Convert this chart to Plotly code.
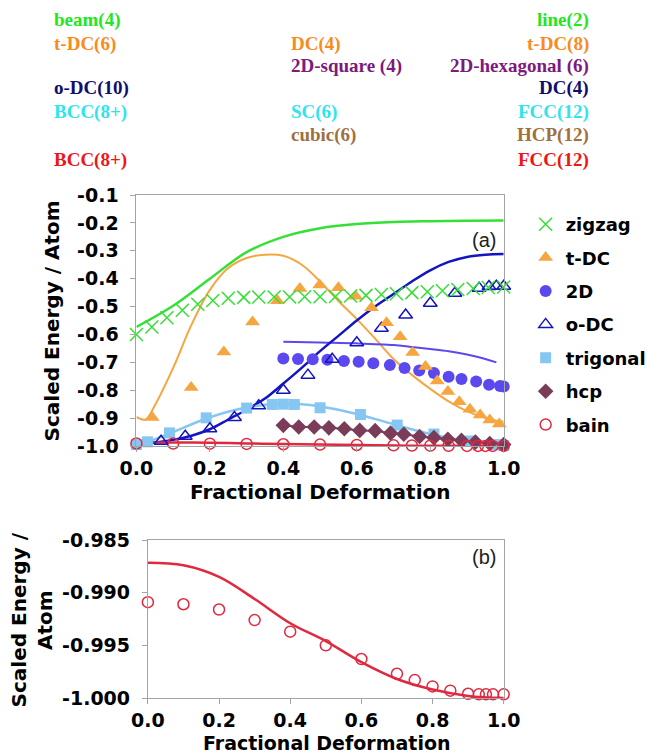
import plotly.graph_objects as go

W, H = 652, 756

# ---------------- data: panel (a) ----------------
zig_x = [0.0, 0.042, 0.083, 0.125, 0.167, 0.208, 0.25, 0.292, 0.333, 0.375, 0.417, 0.458,
         0.5, 0.542, 0.583, 0.625, 0.667, 0.708, 0.75, 0.792, 0.833, 0.875, 0.917, 0.958, 1.0]
zig_y = [-0.600, -0.573, -0.540, -0.513, -0.492, -0.478, -0.470, -0.467, -0.466, -0.466, -0.466, -0.465,
         -0.465, -0.464, -0.462, -0.460, -0.457, -0.454, -0.450, -0.447, -0.443, -0.439, -0.435, -0.432, -0.430]
zig_fit_x = [0.0, 0.1, 0.2, 0.3, 0.4, 0.5, 0.6, 0.7, 0.8, 0.9, 1.0]
zig_fit_y = [-0.573, -0.497, -0.400, -0.305, -0.250, -0.219, -0.204, -0.197, -0.194, -0.192, -0.191]

tdc_x = [0.043, 0.149, 0.238, 0.316, 0.384, 0.445, 0.499, 0.55, 0.597, 0.64, 0.681, 0.718,
         0.752, 0.787, 0.819, 0.848, 0.879, 0.908, 0.936, 0.962, 0.988]
tdc_y = [-0.898, -0.790, -0.663, -0.555, -0.479, -0.435, -0.423, -0.433, -0.463, -0.504, -0.558, -0.608,
         -0.665, -0.715, -0.767, -0.805, -0.841, -0.868, -0.889, -0.907, -0.921]
tdc_fit_x = [0.0, 0.025, 0.05, 0.1, 0.15, 0.2, 0.25, 0.3, 0.35, 0.4, 0.45, 0.5, 0.55, 0.6,
             0.65, 0.7, 0.75, 0.8, 0.85, 0.9, 0.95, 1.0]
tdc_fit_y = [-0.896, -0.905, -0.855, -0.720, -0.565, -0.440, -0.362, -0.326, -0.314, -0.318, -0.350,
             -0.410, -0.480, -0.545, -0.615, -0.688, -0.745, -0.795, -0.840, -0.875, -0.900, -0.913]

d2_x = [0.40, 0.44, 0.48, 0.52, 0.565, 0.605, 0.645, 0.69, 0.73, 0.77, 0.81, 0.85, 0.885, 0.925, 0.96, 0.99, 1.0]
d2_y = [-0.686, -0.688, -0.689, -0.691, -0.695, -0.698, -0.703, -0.710, -0.720, -0.729, -0.738, -0.752,
        -0.760, -0.769, -0.780, -0.785, -0.787]
d2_fit_x = [0.40, 0.5, 0.6, 0.7, 0.75, 0.8, 0.85, 0.9, 0.95, 0.98]
d2_fit_y = [-0.626, -0.629, -0.632, -0.638, -0.645, -0.652, -0.660, -0.672, -0.688, -0.700]

odc_x = [0.067, 0.133, 0.2, 0.267, 0.333, 0.4, 0.467, 0.533, 0.6, 0.667, 0.733, 0.8, 0.867, 0.933, 0.96, 0.98, 1.0]
odc_y = [-0.983, -0.965, -0.938, -0.898, -0.856, -0.800, -0.746, -0.689, -0.630, -0.578, -0.530, -0.488,
         -0.452, -0.434, -0.428, -0.427, -0.427]
odc_fit_x = [0.03, 0.1, 0.15, 0.2, 0.25, 0.3, 0.35, 0.4, 0.45, 0.5, 0.55, 0.6, 0.65, 0.7, 0.75,
             0.8, 0.85, 0.9, 0.95, 1.0]
odc_fit_y = [-0.990, -0.978, -0.963, -0.940, -0.905, -0.870, -0.830, -0.776, -0.720, -0.660, -0.605,
             -0.550, -0.500, -0.455, -0.410, -0.370, -0.340, -0.322, -0.314, -0.312]

tri_x = [0.0, 0.03, 0.09, 0.19, 0.30, 0.37, 0.40, 0.43, 0.50, 0.61, 0.71, 0.81, 0.91, 0.98, 1.0]
tri_y = [-0.995, -0.985, -0.953, -0.899, -0.864, -0.851, -0.850, -0.851, -0.863, -0.887, -0.925,
         -0.957, -0.982, -0.995, -0.998]
tri_fit_x = [0.03, 0.1, 0.2, 0.3, 0.4, 0.5, 0.6, 0.7, 0.8, 0.9, 1.0]
tri_fit_y = [-0.986, -0.950, -0.897, -0.862, -0.848, -0.858, -0.885, -0.922, -0.957, -0.983, -0.998]

hcp_x = [0.40, 0.442, 0.484, 0.524, 0.566, 0.608, 0.65, 0.692, 0.728, 0.771, 0.81, 0.848, 0.885,
         0.923, 0.962, 1.0]
hcp_y = [-0.926, -0.932, -0.932, -0.935, -0.938, -0.944, -0.945, -0.954, -0.958, -0.966, -0.970,
         -0.976, -0.980, -0.986, -0.991, -0.995]

# bain (shared by both panels)
bain_x = [0.0, 0.1, 0.2, 0.3, 0.4, 0.5, 0.6, 0.7, 0.75, 0.8, 0.85, 0.9, 0.93, 0.95, 0.97, 1.0]
bain_y = [-0.9909, -0.9911, -0.9916, -0.9926, -0.9937, -0.9950, -0.9963, -0.9977, -0.9983, -0.9989,
          -0.9993, -0.9996, -0.99965, -0.99965, -0.99965, -0.99965]
bain_fit_x = [0.0, 0.1, 0.2, 0.3, 0.4, 0.5, 0.6, 0.7, 0.8, 0.9, 1.0]
bain_fit_y = [-0.98716, -0.9874, -0.9885, -0.9906, -0.9929, -0.9946, -0.9966, -0.9982, -0.9992,
              -0.9998, -1.0]

# ticks
xa_vals = [0.0, 0.2, 0.4, 0.6, 0.8, 1.0]
xa_text = ["0.0", "0.2", "0.4", "0.6", "0.8", "1.0"]
ya_vals = [-1.0, -0.9, -0.8, -0.7, -0.6, -0.5, -0.4, -0.3, -0.2, -0.1]
ya_text = ["-1.0", "-0.9", "-0.8", "-0.7", "-0.6", "-0.5", "-0.4", "-0.3", "-0.2", "-0.1"]
yb_vals = [-1.0, -0.995, -0.99, -0.985]
yb_text = ["-1.000", "-0.995", "-0.990", "-0.985"]

# top labels (text only)
left_labels = ["beam(4)", "t-DC(6)", "", "o-DC(10)", "BCC(8+)", "", "BCC(8+)"]
mid_labels = ["", "DC(4)", "2D-square (4)", "", "SC(6)", "cubic(6)", ""]
right_labels = ["line(2)", "t-DC(8)", "2D-hexagonal (6)", "DC(4)", "FCC(12)", "HCP(12)", "FCC(12)"]

# ---------------- styles ----------------
GREEN = "#35e035"
ORANGE = "#f5a640"
BLUE2D = "#5b48ee"
NAVY = "#1414c0"
LBLUE = "#86c6f2"
HCP = "#7a3c58"
RED = "#e0283f"
row_colors = ["#22e622", "#fa8a1e", "#7d1a7d", "#0e0e70", "#2ee4ee", "#a0703f", "#ee1515"]
row_y = [20, 44, 66, 88, 112, 135, 160]

BOLD = dict(family="DejaVu Sans", weight="bold", color="black")

fig = go.Figure()

def line(x, y, color, width, xa="x", ya="y"):
    fig.add_trace(go.Scatter(x=x, y=y, mode="lines", line=dict(color=color, width=width, shape="spline", smoothing=1.0),
                             showlegend=False, hoverinfo="skip", xaxis=xa, yaxis=ya, cliponaxis=False))

# fit lines in panel (a)
line(zig_fit_x, zig_fit_y, GREEN, 2.5)
line(tdc_fit_x, tdc_fit_y, ORANGE, 2)
line(d2_fit_x, d2_fit_y, BLUE2D, 2)
line(odc_fit_x, odc_fit_y, NAVY, 2.5)
line(tri_fit_x, tri_fit_y, LBLUE, 2.5)
fig.add_trace(go.Scatter(x=hcp_x, y=hcp_y, mode="lines", line=dict(color=HCP, width=2),
                         showlegend=False, hoverinfo="skip", cliponaxis=False))
line(bain_fit_x, bain_fit_y, RED, 2.5)

def pts(name, x, y, symbol, size, color, filled=True, lw=1.5):
    if filled:
        marker = dict(symbol=symbol, size=size, color=color, line=dict(width=0))
    else:
        marker = dict(symbol=symbol, size=size, color=color, line=dict(width=lw, color=color))
    fig.add_trace(go.Scatter(x=x, y=y, mode="markers", name=name, marker=marker, legendgroup=name,
                             cliponaxis=False, xaxis="x", yaxis="y"))

pts("trigonal", tri_x, tri_y, "square", 11, LBLUE)
pts("hcp", hcp_x, hcp_y, "diamond", 12, HCP)
pts("bain", bain_x, bain_y, "circle-open", 11, RED, filled=False)
pts("2D", d2_x, d2_y, "circle", 12, BLUE2D)
pts("o-DC", odc_x, odc_y, "triangle-up-open", 12, NAVY, filled=False)
pts("t-DC", tdc_x, tdc_y, "triangle-up", 13, ORANGE)
pts("zigzag", zig_x, zig_y, "x-thin-open", 13, GREEN, filled=False)

# legend ranks
ranks = {"zigzag": 1, "t-DC": 2, "2D": 3, "o-DC": 4, "trigonal": 5, "hcp": 6, "bain": 7}
for tr in fig.data:
    if tr.name in ranks:
        tr.legendrank = ranks[tr.name]

# panel (b)
line(bain_fit_x, bain_fit_y, RED, 2.5, "x2", "y2")
fig.add_trace(go.Scatter(x=bain_x, y=bain_y, mode="markers", showlegend=False, xaxis="x2", yaxis="y2",
                         cliponaxis=False,
                         marker=dict(symbol="circle-open", size=11, color=RED, line=dict(width=1.5, color=RED))))

AX = dict(showline=True, mirror=True, linecolor="#9ea6a6", linewidth=1, ticks="outside", ticklen=5,
          tickcolor="#9ea6a6", showgrid=False, zeroline=False, tickfont=dict(BOLD, size=19),
          tickmode="array", automargin=False)

xa0, xa1 = 143 / W, 528 / W
xb0 = 155 / W
ya0, ya1 = 1 - 446 / H, 1 - 195 / H
yb0, yb1 = 1 - 698 / H, 1 - 540 / H

fig.update_layout(
    width=W, height=H, margin=dict(l=0, r=0, t=0, b=0),
    paper_bgcolor="white", plot_bgcolor="white",
    xaxis=dict(AX, domain=[xa0, xa1], anchor="y", range=[0, 1], tickvals=xa_vals, ticktext=xa_text,
               ticklabelstandoff=0),
    yaxis=dict(AX, domain=[ya0, ya1], anchor="x", range=[-1.0, -0.1], tickvals=ya_vals, ticktext=ya_text,
               ticklabelstandoff=8),
    xaxis2=dict(AX, domain=[xb0, xa1], anchor="y2", range=[0, 1], tickvals=xa_vals, ticktext=xa_text,
                ticklabelstandoff=0),
    yaxis2=dict(AX, domain=[yb0, yb1], anchor="x2", range=[-1.0, -0.985], tickvals=yb_vals, ticktext=yb_text,
                ticklabelstandoff=8),
    legend=dict(x=551 / W, y=1 - 206 / H, xanchor="left", yanchor="top", font=dict(BOLD, size=18),
                bgcolor="rgba(0,0,0,0)", traceorder="grouped", tracegroupgap=7, itemsizing="trace"),
    showlegend=True,
)

ann = []
def A(text, x, y, size, xanchor="center", angle=0, font=None, color="black"):
    f = dict(font or BOLD)
    f.update(size=size, color=color)
    ann.append(dict(text=text, x=x / W, y=1 - y / H, xref="paper", yref="paper", showarrow=False,
                    xanchor=xanchor, yanchor="middle", textangle=angle, font=f))

A("Scaled Energy / Atom", 55, 321, 20, angle=-90)
A("Fractional Deformation", 336, 492, 20)
A("Scaled Energy /<br>Atom", 34, 620, 20, angle=-90)
A("Fractional Deformation", 342, 743, 19)
A("(a)", 507, 240, 20, font=dict(family="Liberation Sans"), color="#222")
A("(b)", 507, 557, 20, font=dict(family="Liberation Sans"), color="#222")

SERIF = dict(family="Liberation Serif", weight="bold")
for i in range(len(row_y)):
    if left_labels[i]:
        A(left_labels[i], 55, row_y[i], 19, xanchor="left", font=SERIF, color=row_colors[i])
    if mid_labels[i]:
        A(mid_labels[i], 303, row_y[i], 19, xanchor="left", font=SERIF, color=row_colors[i])
    if right_labels[i]:
        A(right_labels[i], 619, row_y[i], 19, xanchor="right", font=SERIF, color=row_colors[i])

fig.update_layout(annotations=ann)
fig.write_html("out.html")
